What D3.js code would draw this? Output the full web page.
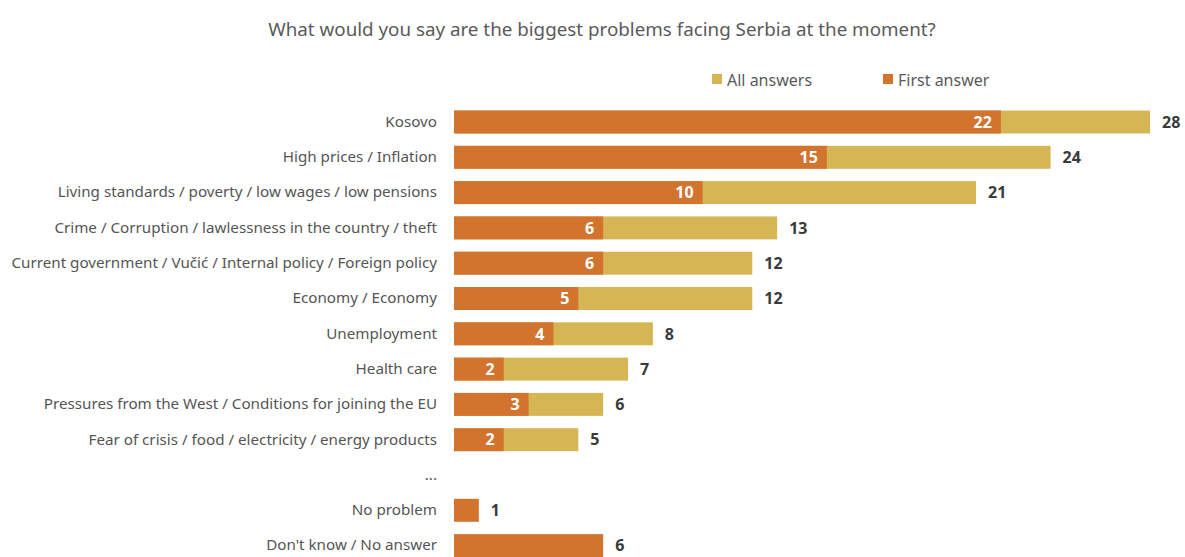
<!DOCTYPE html>
<html>
<head>
<meta charset="utf-8">
<script src="https://cdn.jsdelivr.net/npm/d3@7"></script>
<style>
  html, body { margin: 0; padding: 0; background: #fff; overflow: hidden; }
  svg { display: block; font-family: "Noto Sans", "Open Sans", sans-serif; }
</style>
</head>
<body>
<svg id="chart" width="1185" height="557"></svg>
<script>
// Survey responses, percent of respondents
const categories = [
  "Kosovo",
  "High prices / Inflation",
  "Living standards / poverty / low wages / low pensions",
  "Crime / Corruption / lawlessness in the country / theft",
  "Current government / Vučić / Internal policy / Foreign policy",
  "Economy / Economy",
  "Unemployment",
  "Health care",
  "Pressures from the West / Conditions for joining the EU",
  "Fear of crisis / food / electricity / energy products",
  "...",
  "No problem",
  "Don't know / No answer"
];
const allAnswers   = [28, 24, 21, 13, 12, 12, 8, 7, 6, 5, null, null, null];
const firstAnswer  = [22, 15, 10, 6, 6, 5, 4, 2, 3, 2, null, 1, 6];
const seriesNames  = ["All answers", "First answer"];
const seriesColors = ["#D6B554", "#D2732E"];
const titleText = "What would you say are the biggest problems facing Serbia at the moment?";

const rows = categories.map((c, i) => ({ cat: c, all: allAnswers[i], first: firstAnswer[i] }));

const svg = d3.select("#chart");

const x = d3.scaleLinear().domain([0, 28]).range([454, 1150]);
const step = 35.3;
const y = d3.scaleBand()
  .domain(categories)
  .range([122 - step / 2, 122 - step / 2 + step * categories.length])
  .paddingInner(0.35)
  .paddingOuter(0.175);

// Title
svg.append("text")
  .attr("x", 602).attr("y", 36)
  .attr("text-anchor", "middle")
  .attr("fill", "#5a5a5a")
  .attr("font-size", 18.8)
  .text(titleText);

// Legend
const legendX = [712, 883];
seriesNames.forEach((name, i) => {
  const g = svg.append("g").attr("transform", `translate(${legendX[i]},80)`);
  g.append("rect").attr("x", 0).attr("y", -6).attr("width", 10).attr("height", 10)
    .attr("fill", seriesColors[i]);
  g.append("text").attr("x", 15).attr("y", 0).attr("dy", "0.35em")
    .attr("font-size", 16).attr("fill", "#5a5a5a").text(name);
});

// Category axis
const yAxis = d3.axisLeft(y).tickSize(0).tickPadding(0);
const axisG = svg.append("g").attr("transform", "translate(437,0)").call(yAxis);
axisG.select(".domain").remove();
axisG.selectAll("text")
  .attr("font-size", 15.2)
  .attr("fill", "#555")
  .attr("font-family", "\"Noto Sans\", sans-serif");

// All-answer bars
svg.append("g").selectAll("rect")
  .data(rows.filter(d => d.all != null))
  .join("rect")
  .attr("x", x(0))
  .attr("y", d => y(d.cat))
  .attr("width", d => x(d.all) - x(0))
  .attr("height", y.bandwidth())
  .attr("fill", seriesColors[0]);

// First-answer bars
svg.append("g").selectAll("rect")
  .data(rows.filter(d => d.first != null))
  .join("rect")
  .attr("x", x(0))
  .attr("y", d => y(d.cat))
  .attr("width", d => x(d.first) - x(0))
  .attr("height", y.bandwidth())
  .attr("fill", seriesColors[1]);

// Values inside the first-answer bars
svg.append("g").selectAll("text")
  .data(rows.filter(d => d.first != null && d.all != null))
  .join("text")
  .attr("x", d => x(d.first) - 9)
  .attr("y", d => y(d.cat) + y.bandwidth() / 2)
  .attr("dy", "0.36em")
  .attr("text-anchor", "end")
  .attr("font-size", 16)
  .attr("font-weight", "bold")
  .attr("fill", "#fff")
  .text(d => d.first);

// Totals to the right of each bar
svg.append("g").selectAll("text")
  .data(rows.filter(d => d.all != null || d.first != null))
  .join("text")
  .attr("x", d => x(d.all != null ? d.all : d.first) + 12)
  .attr("y", d => y(d.cat) + y.bandwidth() / 2)
  .attr("dy", "0.36em")
  .attr("font-size", 16)
  .attr("font-weight", "bold")
  .attr("fill", "#3a3a3a")
  .text(d => d.all != null ? d.all : d.first);
</script>
</body>
</html>
